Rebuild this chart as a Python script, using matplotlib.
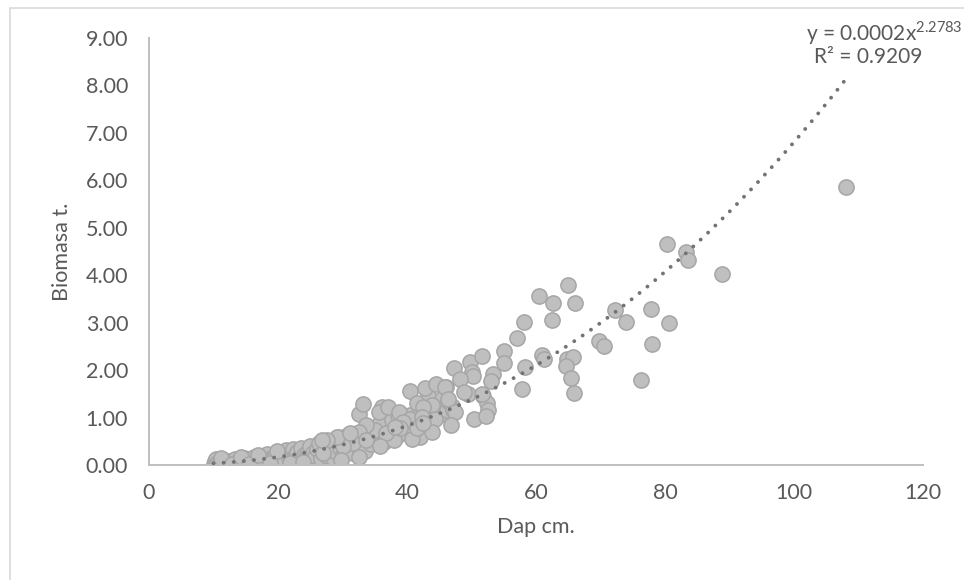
import numpy as np
import matplotlib
matplotlib.use("Agg")
import matplotlib.pyplot as plt
from matplotlib.patches import Rectangle

plt.rcParams["font.family"] = ["Lato", "DejaVu Sans"]
plt.rcParams["mathtext.fontset"] = "custom"
plt.rcParams["mathtext.rm"] = "Lato"

# Dap (cm) and Biomasa (t)
dap = [
    10.0, 10.2, 10.4, 10.5, 10.8, 11.0, 11.3, 11.6, 12.0, 12.3, 12.6, 13.0, 13.3, 13.7,
    14.0, 14.4, 14.8, 15.0, 15.3, 15.7, 16.0, 16.3, 16.7, 17.0, 17.4, 17.8, 18.0, 18.3,
    18.6, 19.0, 19.3, 19.6, 20.0, 20.3, 20.6, 21.0, 21.3, 21.6, 22.0, 22.3, 22.6, 23.0,
    23.3, 23.6, 24.0, 24.3, 24.6, 25.0, 25.2, 25.5, 25.8, 26.0, 26.3, 26.6, 27.0, 27.3,
    27.6, 28.0, 28.2, 28.5, 28.8, 29.0, 29.3, 29.6, 30.0, 30.3, 30.6, 31.0, 31.3, 31.6,
    32.0, 32.3, 32.6, 33.0, 33.5, 34.0, 34.4, 34.8, 35.2, 35.6, 36.0, 36.5, 36.8, 37.2,
    37.6, 38.3, 38.6, 39.2, 39.8, 40.5, 41.0, 41.8, 42.0, 43.2, 44.0, 45.0, 45.5, 46.2,
    47.0, 49.5, 36.1, 32.6,
    33.2, 40.5, 42.8, 44.5, 46.0, 41.5, 43.8, 46.4, 42.5, 35.7, 37.1, 38.8, 40.5, 39.4,
    42.3, 44.3, 47.2, 43.8, 40.7, 38.0, 35.0, 33.7, 32.5, 36.8, 38.9, 41.5, 42.5, 31.7,
    32.5, 30.1, 29.1, 27.6, 27.0, 33.7, 35.8, 38.1,
    49.8, 47.3, 50.1, 50.2, 48.2, 45.9, 48.8, 46.4, 51.8, 47.4, 50.4, 46.8,
    51.7, 53.4, 53.0, 52.4, 52.5, 52.2, 51.7, 55.0, 55.0, 57.1, 58.1, 58.3, 57.8,
    60.5, 62.6, 62.5, 61.0, 61.2, 64.9, 66.0, 64.8, 65.8, 64.6, 65.5, 65.9,
    69.8, 70.5, 72.3, 73.9, 77.9, 80.6, 78.0, 76.3,
    80.3, 83.2, 83.6, 88.9, 108.0,
    11.2, 12.8, 14.2, 15.5, 16.9, 18.8, 19.8, 21.8, 23.8, 26.8, 29.8, 31.2,
]
biomasa = [
    0.03, 0.08, 0.12, 0.05, 0.02, 0.07, 0.04, 0.10, 0.06, 0.03, 0.09, 0.05, 0.12, 0.07,
    0.04, 0.10, 0.14, 0.06, 0.09, 0.12, 0.05, 0.16, 0.10, 0.07, 0.13, 0.18, 0.09, 0.24,
    0.12, 0.08, 0.15, 0.20, 0.10, 0.26, 0.17, 0.12, 0.31, 0.22, 0.14, 0.34, 0.19, 0.27,
    0.11, 0.36, 0.22, 0.16, 0.30, 0.40, 0.08, 0.25, 0.18, 0.33, 0.47, 0.12, 0.28, 0.40,
    0.20, 0.35, 0.50, 0.15, 0.42, 0.28, 0.58, 0.36, 0.22, 0.48, 0.62, 0.33, 0.55, 0.25,
    0.44, 0.64, 0.38, 0.52, 0.30, 0.60, 0.45, 0.72, 0.55, 0.86, 0.63, 0.48, 1.18, 0.70,
    0.95, 0.60, 1.05, 0.85, 0.68, 1.05, 0.80, 1.10, 0.60, 1.45, 1.20, 1.05, 1.40, 1.15,
    1.25, 1.50, 1.22, 1.08,
    1.29, 1.55, 1.62, 1.71, 1.65, 1.30, 1.27, 1.34, 1.23, 1.11, 1.23, 1.12, 0.97, 0.91,
    1.02, 0.98, 1.16, 0.70, 0.55, 0.53, 0.74, 0.84, 0.70, 0.67, 0.77, 0.77, 0.88, 0.46,
    0.16, 0.39, 0.60, 0.53, 0.25, 0.53, 0.39, 0.81,
    2.18, 2.05, 1.97, 1.88, 1.81, 1.65, 1.53, 1.39, 1.46, 1.12, 0.97, 0.84,
    2.30, 1.92, 1.77, 1.31, 1.16, 1.03, 1.50, 2.40, 2.16, 2.67, 3.02, 2.07, 1.61,
    3.56, 3.41, 3.06, 2.32, 2.24, 3.79, 3.41, 2.24, 2.27, 2.09, 1.84, 1.51,
    2.62, 2.50, 3.27, 3.02, 3.28, 3.00, 2.56, 1.79,
    4.66, 4.49, 4.32, 4.03, 5.85,
    0.14, 0.02, 0.16, 0.03, 0.21, 0.04, 0.30, 0.05, 0.07, 0.52, 0.10, 0.68,
]

x_ticks = [0, 20, 40, 60, 80, 100, 120]
y_ticks = [0, 1, 2, 3, 4, 5, 6, 7, 8, 9]

x = np.array(dap)
y = np.array(biomasa)

# power trendline, fitted in log-log space like Excel does
b, log_a = np.polyfit(np.log(x), np.log(y), 1)
a = np.exp(log_a)
xs = np.linspace(x.min(), x.max(), 300)
ys = a * xs ** b

fig = plt.figure(figsize=(9.64, 5.80), dpi=100)
fig.patches.append(Rectangle((10 / 964, -0.5), 2, 1.5 - 8 / 580, transform=fig.transFigure,
                             fill=False, edgecolor="#D9D9D9", linewidth=1.2))
ax = fig.add_axes([149 / 964, 1 - 465 / 580, (923 - 149) / 964, (465 - 38) / 580])

ax.scatter(x, y, s=120, color="#BFBFBF", edgecolor="#A6A6A6", linewidth=1.1, zorder=2)
ax.plot(xs, ys, linestyle=(0, (0.01, 2.6)), color="#737373", linewidth=2.8,
        dash_capstyle="round", zorder=3)

ax.set_xlim(0, 120)
ax.set_ylim(0, 9)
ax.set_xticks(x_ticks)
ax.set_yticks(y_ticks)
ax.set_yticklabels([f"{v:.2f}" for v in y_ticks])
ax.tick_params(length=0, labelsize=15.5, labelcolor="#595959")
ax.tick_params(axis="x", pad=13)
ax.tick_params(axis="y", pad=15)
for side in ["top", "right"]:
    ax.spines[side].set_visible(False)
for side in ["left", "bottom"]:
    ax.spines[side].set_color("#BFBFBF")
    ax.spines[side].set_linewidth(1.4)

ax.set_xlabel("Dap cm.", fontsize=15.5, color="#595959", labelpad=10)
ax.set_ylabel("Biomasa t.", fontsize=15.5, color="#595959", labelpad=10)

fig.text(963 / 964, 1 - 33 / 580, r"y = 0.0002x$^{2.2783}$", fontsize=15, color="#595959",
         ha="right", va="center")
fig.text(868 / 964, 1 - 57 / 580, "R² = 0.9209", fontsize=15, color="#595959",
         ha="center", va="center")

fig.savefig("out.png", dpi=100)
